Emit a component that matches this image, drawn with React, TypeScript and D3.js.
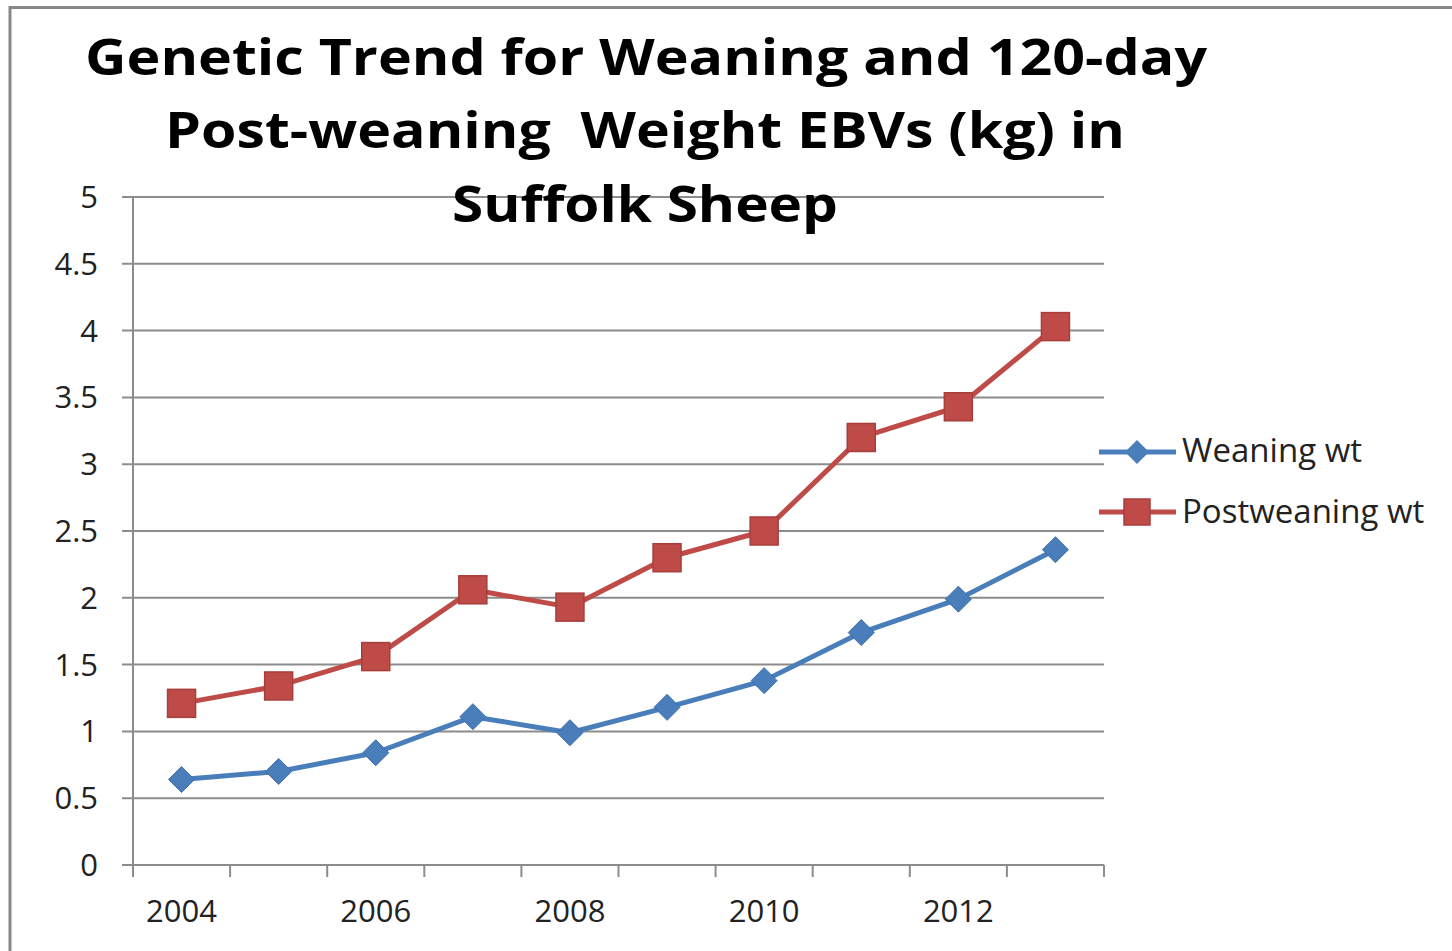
import React from "react";
import * as d3 from "d3";

const years = [2004, 2005, 2006, 2007, 2008, 2009, 2010, 2011, 2012, 2013];
const weaning = [0.64, 0.7, 0.84, 1.11, 0.99, 1.18, 1.38, 1.74, 1.99, 2.36];
const postweaning = [1.21, 1.34, 1.56, 2.06, 1.93, 2.3, 2.5, 3.2, 3.43, 4.03];
const yTicks = [0, 0.5, 1, 1.5, 2, 2.5, 3, 3.5, 4, 4.5, 5];
const xLabels = [2004, 2006, 2008, 2010, 2012];
const titleLines = [
  "Genetic Trend for Weaning and 120-day",
  "Post-weaning  Weight EBVs (kg) in",
  "Suffolk Sheep",
];
const seriesNames = ["Weaning wt", "Postweaning wt"];

export default function App() {
  const W = 1452, H = 951;
  const left = 133, right = 1104, top = 197, bottom = 865;
  const x = d3.scaleBand<number>().domain(years).range([left, right]).padding(0);
  const y = d3.scaleLinear().domain([0, 5]).range([bottom, top]);
  const cx = (yr: number) => (x(yr) as number) + x.bandwidth() / 2;
  const line = d3.line<number>().x((_, i) => cx(years[i])).y((d) => y(d));
  const boundaries = [...years.map((yr) => x(yr) as number), right];
  const font = "'Open Sans', 'Noto Sans', sans-serif";
  const titleY = [75, 148, 222];
  const titleX = [[85, 1207], [165, 1125], [452, 838]];
  const blue = "#4a7ebb", red = "#be4b48";
  const diamond = (px: number, py: number, r: number) =>
    `M${px},${py - r}L${px + r},${py}L${px},${py + r}L${px - r},${py}Z`;

  return (
    <svg width={W} height={H} style={{ display: "block", position: "absolute", left: 0, top: 0 }}>
      <rect x={0} y={0} width={W} height={H} fill="#fff" />
      <rect x={10} y={7.5} width={W + 20} height={H + 20} fill="none" stroke="#888" strokeWidth={3} />
      {yTicks.map((t) => (
        <g key={t}>
          <line x1={122} x2={right} y1={y(t)} y2={y(t)} stroke="#8c8c8c" strokeWidth={2} />
          <text x={98} y={y(t) + 11} textAnchor="end" fontSize={31} fontFamily={font} fill="#222">
            {t}
          </text>
        </g>
      ))}
      <line x1={left} x2={left} y1={top} y2={bottom} stroke="#8c8c8c" strokeWidth={2} />
      {boundaries.map((b, i) => (
        <line key={i} x1={b} x2={b} y1={bottom} y2={bottom + 12} stroke="#8c8c8c" strokeWidth={2} />
      ))}
      {xLabels.map((yr) => (
        <text key={yr} x={cx(yr)} y={922} textAnchor="middle" fontSize={31} fontFamily={font} fill="#222">
          {yr}
        </text>
      ))}
      {titleLines.map((t, i) => (
        <text
          key={i}
          x={titleX[i][0]}
          y={titleY[i]}
          fontSize={50}
          fontWeight="bold"
          fontFamily={font}
          fill="#000"
          textLength={titleX[i][1] - titleX[i][0]}
          lengthAdjust="spacingAndGlyphs"
          style={{ whiteSpace: "pre" }}
        >
          {t}
        </text>
      ))}
      <path d={line(weaning) || ""} fill="none" stroke={blue} strokeWidth={5} strokeLinejoin="round" />
      {weaning.map((v, i) => (
        <path key={i} d={diamond(cx(years[i]), y(v), 13)} fill={blue} stroke="#3f6fa8" strokeWidth={1} />
      ))}
      <path d={line(postweaning) || ""} fill="none" stroke={red} strokeWidth={5} strokeLinejoin="round" />
      {postweaning.map((v, i) => (
        <rect key={i} x={cx(years[i]) - 14} y={y(v) - 14} width={28} height={28} fill={red} stroke="#a83e3b" strokeWidth={1.5} />
      ))}
      {/* legend */}
      <g>
        <line x1={1099} x2={1176} y1={452} y2={452} stroke={blue} strokeWidth={5} />
        <path d={diamond(1137, 452, 12)} fill={blue} />
        <text x={1182} y={462} fontSize={33} fontFamily={font} fill="#222">{seriesNames[0]}</text>
        <line x1={1099} x2={1176} y1={512} y2={512} stroke={red} strokeWidth={5} />
        <rect x={1124} y={499} width={26} height={26} fill={red} stroke="#a83e3b" strokeWidth={1.5} />
        <text x={1182} y={523} fontSize={33} fontFamily={font} fill="#222">{seriesNames[1]}</text>
      </g>
    </svg>
  );
}
